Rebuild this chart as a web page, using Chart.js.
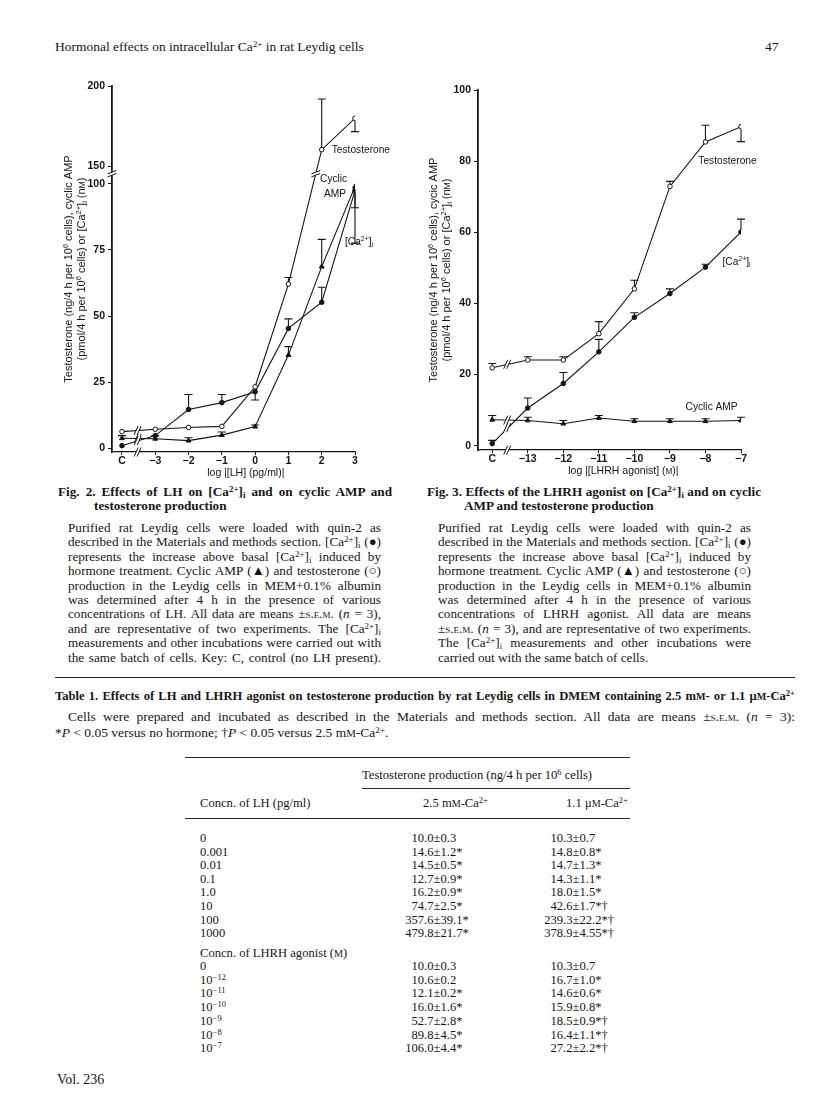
<!DOCTYPE html>
<html>
<head>
<meta charset="utf-8">
<title>Hormonal effects on intracellular Ca2+ in rat Leydig cells</title>
<script src="https://cdn.jsdelivr.net/npm/chart.js@4.4.1/dist/chart.umd.min.js"></script>
<style>
  body { margin: 0; background: #fff; }
  #page { position: relative; width: 816px; height: 1101px; overflow: hidden; background: #fff;
          font-family: 'Liberation Serif', 'Times New Roman', serif; color: #161616; }
  .a { position: absolute; white-space: nowrap; line-height: 14px; font-size: 12.6px; }
  sup { font-size: 0.68em; vertical-align: 0.42em; line-height: 0; }
  sub { font-size: 0.68em; vertical-align: -0.22em; line-height: 0; }
  .sc { font-variant: small-caps; }
  .cap { position: absolute; font-size: 13.2px; line-height: 14.4px; }
  .ttl { font-weight: bold; }
  .jl, .nl { height: 14.4px; white-space: nowrap; }
  canvas { position: absolute; }
  .rule { position: absolute; height: 0; border-top: 1px solid #2a2a2a; }
</style>
</head>
<body>
<div id="page">
  <div class="a" style="left:55px;top:40px;font-size:13.5px;">Hormonal effects on intracellular Ca<sup>2+</sup> in rat Leydig cells</div>
  <div class="a" style="left:765px;top:40px;font-size:13.5px;">47</div>

  <canvas id="fig2" width="345" height="405" style="left:55px;top:75px;"></canvas>
  <canvas id="fig3" width="380" height="405" style="left:425px;top:75px;"></canvas>

  <!-- Fig. 2 legend -->
  <div class="cap" style="left:58px;top:485px;width:334px;">
    <div class="jl ttl">Fig. 2. Effects of LH on [Ca<sup>2+</sup>]<sub>i</sub> and on cyclic AMP and</div>
    <div class="nl ttl" style="padding-left:36px;">testosterone production</div>
  </div>
  <div class="cap" style="left:68px;top:521px;width:313px;">
    <div class="jl">Purified rat Leydig cells were loaded with quin-2 as</div>
    <div class="jl">described in the Materials and methods section. [Ca<sup>2+</sup>]<sub>i</sub> (&#9679;)</div>
    <div class="jl">represents the increase above basal [Ca<sup>2+</sup>]<sub>i</sub> induced by</div>
    <div class="jl">hormone treatment. Cyclic AMP (&#9650;) and testosterone (&#9675;)</div>
    <div class="jl">production in the Leydig cells in MEM+0.1% albumin</div>
    <div class="jl">was determined after 4 h in the presence of various</div>
    <div class="jl">concentrations of LH. All data are means &#177;<span class="sc">s.e.m.</span> (<i>n</i> = 3),</div>
    <div class="jl">and are representative of two experiments. The [Ca<sup>2+</sup>]<sub>i</sub></div>
    <div class="jl">measurements and other incubations were carried out with</div>
    <div class="jl">the same batch of cells. Key: C, control (no LH present).</div>
  </div>

  <!-- Fig. 3 legend -->
  <div class="cap" style="left:427px;top:485px;width:334px;">
    <div class="jl ttl">Fig. 3. Effects of the LHRH agonist on [Ca<sup>2+</sup>]<sub>i</sub> and on cyclic</div>
    <div class="nl ttl" style="padding-left:37px;">AMP and testosterone production</div>
  </div>
  <div class="cap" style="left:438px;top:521px;width:313px;">
    <div class="jl">Purified rat Leydig cells were loaded with quin-2 as</div>
    <div class="jl">described in the Materials and methods section. [Ca<sup>2+</sup>]<sub>i</sub> (&#9679;)</div>
    <div class="jl">represents the increase above basal [Ca<sup>2+</sup>]<sub>i</sub> induced by</div>
    <div class="jl">hormone treatment. Cyclic AMP (&#9650;) and testosterone (&#9675;)</div>
    <div class="jl">production in the Leydig cells in MEM+0.1% albumin</div>
    <div class="jl">was determined after 4 h in the presence of various</div>
    <div class="jl">concentrations of LHRH agonist. All data are means</div>
    <div class="jl">&#177;<span class="sc">s.e.m.</span> (<i>n</i> = 3), and are representative of two experiments.</div>
    <div class="jl">The [Ca<sup>2+</sup>]<sub>i</sub> measurements and other incubations were</div>
    <div class="nl">carried out with the same batch of cells.</div>
  </div>

  <div class="rule" style="left:55px;top:677px;width:740px;border-top-width:1.5px;"></div>

  <div class="cap" style="left:55px;top:689px;width:740px;font-size:12.6px;">
    <div class="jl ttl">Table 1. Effects of LH and LHRH agonist on testosterone production by rat Leydig cells in DMEM containing 2.5 m<span style="font-size:0.8em">M</span>- or 1.1 &#956;<span style="font-size:0.8em">M</span>-Ca<sup>2+</sup></div>
  </div>
  <div class="cap" style="left:68px;top:710px;width:727px;font-size:13.5px;">
    <div class="jl">Cells were prepared and incubated as described in the Materials and methods section. All data are means &#177;<span class="sc">s.e.m.</span> (<i>n</i> = 3):</div>
  </div>
  <div class="a" style="left:55px;top:726px;font-size:13.5px;">*<i>P</i> &lt; 0.05 versus no hormone; &#8224;<i>P</i> &lt; 0.05 versus 2.5 m<span style="font-size:0.8em">M</span>-Ca<sup>2+</sup>.</div>

  <div id="tbl"></div>

  <div class="a" style="left:57px;top:1073px;font-size:14px;">Vol. 236</div>
</div>

<script>
// ---------- Fig. 2: LH ----------
const lhLabels = ['C', '\u22123', '\u22122', '\u22121', '0', '1', '2', '3'];
const lhDose = [-4, -3, -2, -1, 0, 1, 2, 3];   // log [LH]; control sits one step left of -3
const lhTesto = [6.2, 7.1, 7.8, 8.2, 23.2, 62.1, 160.2, 179.8];
const lhTestoSem = [0, 0, 0, 0, 0, 2.5, 31.7, -8.3];
const lhCamp = [3.7, 3.5, 2.8, 4.9, 8.1, 35.2, 68.7, 99.0];
const lhCampSem = [1.0, 1.2, 1.1, 1.2, 0.6, 3.2, 10.3, 2.8];
const lhCa = [0.9, 4.7, 14.6, 17.2, 21.3, 45.3, 55.2, 97.5];
const lhCaSem = [0, 0, 5.7, 3.1, -3.1, 3.6, 5.7, -6.5];
const lhYTicks = [0, 25, 50, 75, 100, 150, 200];

// ---------- Fig. 3: LHRH agonist ----------
const lhrhLabels = ['C', '\u221213', '\u221212', '\u221211', '\u221210', '\u22129', '\u22128', '\u22127'];
const lhrhDose = [-14, -13, -12, -11, -10, -9, -8, -7];
const lhrhTesto = [21.9, 24.1, 24.1, 31.5, 44.1, 72.9, 85.4, 89.7];
const lhrhTestoSem = [1.2, 0.9, 0.9, 3.4, 2.4, 1.4, 4.7, -4.2];
const lhrhCa = [0.6, 10.6, 17.5, 26.4, 36.1, 42.8, 50.2, 60.1];
const lhrhCaSem = [0.9, 2.8, 3.1, 3.5, 1.3, 1.3, 0.8, 3.6];
const lhrhCamp = [7.3, 7.1, 6.2, 7.8, 6.9, 6.9, 6.9, 7.1];
const lhrhCampSem = [1.2, 0.9, 0.9, 0.7, 0.7, 0.7, 0.7, 0.9];
const lhrhYTicks = [0, 20, 40, 60, 80, 100];

// ---------- Table 1 ----------
const tblLhConc = ['0', '0.001', '0.01', '0.1', '1.0', '10', '100', '1000'];
const tblLhHigh = ['10.0±0.3', '14.6±1.2*', '14.5±0.5*', '12.7±0.9*', '16.2±0.9*', '74.7±2.5*', '357.6±39.1*', '479.8±21.7*'];
const tblLhLow = ['10.3±0.7', '14.8±0.8*', '14.7±1.3*', '14.3±1.1*', '18.0±1.5*', '42.6±1.7*†', '239.3±22.2*†', '378.9±4.55*†'];
const tblLhrhConc = ['0', '10<sup>\u221212</sup>', '10<sup>\u221211</sup>', '10<sup>\u221210</sup>', '10<sup>\u22129</sup>', '10<sup>\u22128</sup>', '10<sup>\u22127</sup>'];
const tblLhrhHigh = ['10.0±0.3', '10.6±0.2', '12.1±0.2*', '16.0±1.6*', '52.7±2.8*', '89.8±4.5*', '106.0±4.4*'];
const tblLhrhLow = ['10.3±0.7', '16.7±1.0*', '14.6±0.6*', '15.9±0.8*', '18.5±0.9*†', '16.4±1.1*†', '27.2±2.2*†'];

const ink = '#141414';
const sans = '"Liberation Sans", Arial, Helvetica, sans-serif';

// Fig. 2 axis is broken between 100 and 150; above the break the scale is compressed
const lhY = v => (v <= 100 ? v : 106.8 + (v - 150) * 0.606);
const plainY = v => v;

/* ---------- small rich-text helper for canvas (^{sup} _{sub} ~{small caps}) ---------- */
function parseRich(str) {
    const parts = [];
    const re = /([\^_~])\{([^}]*)\}/g;
    let last = 0, m;
    while ((m = re.exec(str))) {
        if (m.index > last) parts.push({ t: str.slice(last, m.index), k: '' });
        parts.push({ t: m[2], k: m[1] });
        last = re.lastIndex;
    }
    if (last < str.length) parts.push({ t: str.slice(last), k: '' });
    return parts;
}

function drawRich(ctx, str, x, cy, size, weight, align) {
    const parts = parseRich(str);
    const fontFor = k => `${weight} ${k === '~' ? size * 0.78 : k ? size * 0.68 : size}px ${sans}`;
    let w = 0;
    parts.forEach(p => { ctx.font = fontFor(p.k); p.w = ctx.measureText(p.t).width; w += p.w; });
    let cx = align === 'center' ? x - w / 2 : x;
    const base = cy + size * 0.36;
    ctx.textAlign = 'left';
    ctx.textBaseline = 'alphabetic';
    parts.forEach(p => {
        ctx.font = fontFor(p.k);
        const dy = p.k === '^' ? -size * 0.4 : p.k === '_' ? size * 0.22 : 0;
        ctx.fillText(p.t, cx, base + dy);
        cx += p.w;
    });
}

/* ---------- plugins ---------- */
function figPlugins(o) {
    const semBars = {
        id: 'semBars',
        afterDatasetsDraw(chart) {
            const { ctx, scales: { x, y } } = chart;
            ctx.save();
            ctx.strokeStyle = ink;
            ctx.lineWidth = 1.1;
            chart.data.datasets.forEach(ds => {
                ds.sem.forEach((s, i) => {
                    if (!s) return;
                    const px = x.getPixelForValue(ds.data[i].x);
                    const y0 = y.getPixelForValue(o.yMap(ds.vals[i]));
                    const y1 = y.getPixelForValue(o.yMap(ds.vals[i] + s));
                    const dir = y1 < y0 ? -1 : 1;
                    ctx.beginPath();
                    ctx.moveTo(px, y0 + dir * 2.3);
                    ctx.lineTo(px, y1);
                    ctx.moveTo(px - 4, y1);
                    ctx.lineTo(px + 4, y1);
                    ctx.stroke();
                });
            });
            ctx.restore();
        }
    };

    const slash = (ctx, px, py, vertical) => {
        ctx.beginPath();
        if (vertical) {
            ctx.moveTo(px - 4.5, py + 4.5); ctx.lineTo(px - 0.5, py - 4.5);
            ctx.lineTo(px + 2.5, py - 4.5); ctx.lineTo(px - 1.5, py + 4.5);
        } else {
            ctx.moveTo(px - 4.5, py + 0.5); ctx.lineTo(px + 4.5, py - 3);
            ctx.lineTo(px + 4.5, py); ctx.lineTo(px - 4.5, py + 3.5);
        }
        ctx.closePath();
        ctx.fillStyle = '#fff';
        ctx.fill();
        ctx.beginPath();
        if (vertical) {
            ctx.moveTo(px - 4.5, py + 4.5); ctx.lineTo(px - 0.5, py - 4.5);
            ctx.moveTo(px - 1.5, py + 4.5); ctx.lineTo(px + 2.5, py - 4.5);
        } else {
            ctx.moveTo(px - 4.5, py + 0.5); ctx.lineTo(px + 4.5, py - 3);
            ctx.moveTo(px - 4.5, py + 3.5); ctx.lineTo(px + 4.5, py);
        }
        ctx.stroke();
    };

    const breaks = {
        id: 'breaks',
        afterDatasetsDraw(chart) {
            const { ctx, chartArea, scales: { x, y } } = chart;
            ctx.save();
            ctx.strokeStyle = ink;
            ctx.lineWidth = 1;
            const bx = o.xBreak;
            const px = x.getPixelForValue(bx);
            slash(ctx, px, chartArea.bottom, true);
            chart.data.datasets.forEach(ds => {
                const p = ds.data;
                for (let i = 0; i < p.length - 1; i++) {
                    if (p[i].x <= bx && p[i + 1].x >= bx) {
                        const t = (bx - p[i].x) / (p[i + 1].x - p[i].x);
                        slash(ctx, px, y.getPixelForValue(p[i].y + t * (p[i + 1].y - p[i].y)), true);
                    }
                }
            });
            if (o.yBreak !== undefined) {
                const by = o.yBreak;
                const py = y.getPixelForValue(by);
                slash(ctx, chartArea.left, py, false);
                chart.data.datasets.forEach(ds => {
                    const p = ds.data;
                    for (let i = 0; i < p.length - 1; i++) {
                        if (p[i].y <= by && p[i + 1].y >= by) {
                            const t = (by - p[i].y) / (p[i + 1].y - p[i].y);
                            slash(ctx, x.getPixelForValue(p[i].x + t * (p[i + 1].x - p[i].x)), py, false);
                        }
                    }
                });
            }
            ctx.restore();
        }
    };

    const notes = {
        id: 'notes',
        afterDraw(chart) {
            const { ctx, chartArea, scales: { x, y } } = chart;
            ctx.save();
            ctx.fillStyle = ink;
            o.notes.forEach(n => {
                drawRich(ctx, n.text, x.getPixelForValue(n.x), y.getPixelForValue(n.y), 10.2, 'normal', 'left');
            });
            drawRich(ctx, o.xTitle, x.getPixelForValue(o.xTitleAt), chartArea.bottom + 20, 10.5, 'normal', 'center');
            const midY = (chartArea.top + chartArea.bottom) / 2;
            o.yTitle.forEach((line, i) => {
                ctx.save();
                ctx.translate(o.yTitleX[i], midY);
                ctx.rotate(-Math.PI / 2);
                drawRich(ctx, line, 0, 0, 11, 'normal', 'center');
                ctx.restore();
            });
            ctx.restore();
        }
    };
    return [semBars, breaks, notes];
}

function series(xs, ys, sems, yMap, style) {
    return Object.assign({
        data: xs.map((x, i) => ({ x, y: yMap(ys[i]) })),
        vals: ys,
        sem: sems,
        showLine: true,
        borderColor: ink,
        borderWidth: 1.1,
        pointRadius: 2.3,
        pointBorderColor: ink,
        pointBorderWidth: 1,
        pointBackgroundColor: ink,
        pointStyle: 'circle'
    }, style);
}

function makeChart(id, o) {
    const tickFont = { family: sans, size: 10.5, weight: 'bold' };
    return new Chart(document.getElementById(id), {
        type: 'scatter',
        data: { datasets: o.datasets },
        options: {
            responsive: false,
            animation: false,
            devicePixelRatio: 1,
            layout: { padding: o.padding },
            plugins: { legend: { display: false }, tooltip: { enabled: false } },
            scales: {
                x: {
                    type: 'linear', min: o.xMin, max: o.xMax,
                    afterBuildTicks: s => { s.ticks = o.xTicks.map(v => ({ value: v })); },
                    afterFit: s => { s.height = o.xAxisH; },
                    ticks: { callback: (v, i) => o.xLabels[i], color: ink, font: tickFont, padding: 0, maxRotation: 0, autoSkip: false },
                    grid: { drawOnChartArea: false, tickLength: 3, color: ink, lineWidth: 1 },
                    border: { color: ink, width: 1.3 }
                },
                y: {
                    type: 'linear', min: o.yMin, max: o.yMax,
                    afterBuildTicks: s => { s.ticks = o.yTicks.map(v => ({ value: o.yMap(v) })); },
                    afterFit: s => { s.width = o.yAxisW; },
                    ticks: { callback: (v, i) => String(o.yTicks[i]), color: ink, font: tickFont, padding: 3, autoSkip: false },
                    grid: { drawOnChartArea: false, tickLength: 4, color: ink, lineWidth: 1 },
                    border: { color: ink, width: 1.8 }
                }
            }
        },
        plugins: figPlugins(o)
    });
}

const open = { pointBackgroundColor: '#fff' };
const tri = { pointStyle: 'triangle', pointRadius: 2.8 };

makeChart('fig2', {
    datasets: [
        series(lhDose, lhTesto, lhTestoSem, lhY, open),
        series(lhDose, lhCamp, lhCampSem, lhY, tri),
        series(lhDose, lhCa, lhCaSem, lhY, {})
    ],
    yMap: lhY,
    padding: { left: 0, top: 11, right: 45, bottom: 0 },
    yAxisW: 57, xAxisH: 28,
    xMin: -4.3, xMax: 3, xTicks: lhDose, xLabels: lhLabels,
    yMin: -1.5, yMax: lhY(200), yTicks: lhYTicks,
    xBreak: -3.5, yBreak: 104,
    notes: [
        { text: 'Testosterone', x: 2.3, y: 113.3 },
        { text: 'Cyclic', x: 1.95, y: 102.3 },
        { text: 'AMP', x: 2.07, y: 96.6 },
        { text: '[Ca^{2+}]_{i}', x: 2.7, y: 78.4 }
    ],
    xTitle: 'log |[LH] (pg/ml)|', xTitleAt: -0.28,
    yTitle: ['Testosterone (ng/4 h per 10^{6} cells), cyclic AMP', '(pmol/4 h per 10^{6} cells) or [Ca^{2+}]_{i} (n~{M})'],
    yTitleX: [13, 26]
});

makeChart('fig3', {
    datasets: [
        series(lhrhDose, lhrhTesto, lhrhTestoSem, plainY, open),
        series(lhrhDose, lhrhCamp, lhrhCampSem, plainY, tri),
        series(lhrhDose, lhrhCa, lhrhCaSem, plainY, {})
    ],
    yMap: plainY,
    padding: { left: 0, top: 15, right: 64, bottom: 0 },
    yAxisW: 53, xAxisH: 30,
    xMin: -14.4, xMax: -7, xTicks: lhrhDose, xLabels: lhrhLabels,
    yMin: -1.2, yMax: 100, yTicks: lhrhYTicks,
    xBreak: -13.55,
    notes: [
        { text: 'Testosterone', x: -8.2, y: 80.3 },
        { text: '[Ca^{2+}]_{i}', x: -7.52, y: 51.8 },
        { text: 'Cyclic AMP', x: -8.56, y: 11.0 }
    ],
    xTitle: 'log |[LHRH agonist] (~{M})|', xTitleAt: -10.31,
    yTitle: ['Testosterone (ng/4 h per 10^{6} cells), cycic AMP', '(pmol/4 h per 10^{6} cells) or [Ca^{2+}]_{i} (n~{M})'],
    yTitleX: [8, 21]
});

/* ---------- Table 1 ---------- */
const tbl = document.getElementById('tbl');
function put(html, style) {
    const d = document.createElement('div');
    d.className = 'a';
    d.innerHTML = html;
    Object.assign(d.style, style);
    tbl.appendChild(d);
}
function rule(left, top, width) {
    const d = document.createElement('div');
    d.className = 'rule';
    Object.assign(d.style, { left: left + 'px', top: top + 'px', width: width + 'px' });
    tbl.appendChild(d);
}
function valueCell(txt, pm, cy) {
    const [a, b] = txt.split('±');
    put(a, { right: (816 - (pm - 3.5)) + 'px', top: (cy - 7) + 'px' });
    put('±', { left: (pm - 3.5) + 'px', top: (cy - 7) + 'px' });
    put(b, { left: (pm + 3.5) + 'px', top: (cy - 7) + 'px' });
}
rule(185, 757, 445);
put('Testosterone production (ng/4 h per 10<sup>6</sup> cells)', { left: '362px', top: '768px' });
rule(362, 788, 268);
put('Concn. of LH (pg/ml)', { left: '200px', top: '796px' });
put('2.5 m<span style="font-size:0.8em">M</span>-Ca<sup>2+</sup>', { left: '423px', top: '796px' });
put('1.1 &#956;<span style="font-size:0.8em">M</span>-Ca<sup>2+</sup>', { left: '566px', top: '796px' });
rule(185, 818, 445);

tblLhConc.forEach((c, i) => {
    const cy = 838 + i * 13.6;
    put(c, { left: '200px', top: (cy - 7) + 'px' });
    valueCell(tblLhHigh[i], 437, cy);
    valueCell(tblLhLow[i], 576, cy);
});
put('Concn. of LHRH agonist (<span style="font-size:0.8em">M</span>)', { left: '200px', top: '946px' });
tblLhrhConc.forEach((c, i) => {
    const cy = 966 + i * 13.7;
    put(c, { left: '200px', top: (cy - 7) + 'px' });
    valueCell(tblLhrhHigh[i], 437, cy);
    valueCell(tblLhrhLow[i], 576, cy);
});

/* ---------- justify legend lines to their column width ---------- */
document.querySelectorAll('.jl').forEach(el => {
    const target = el.clientWidth;
    const span = document.createElement('span');
    while (el.firstChild) span.appendChild(el.firstChild);
    el.appendChild(span);
    const gaps = (span.textContent.trim().match(/ +/g) || []).length;
    const extra = target - span.getBoundingClientRect().width;
    if (gaps) el.style.wordSpacing = (extra / gaps) + 'px';
});
</script>
</body>
</html>
